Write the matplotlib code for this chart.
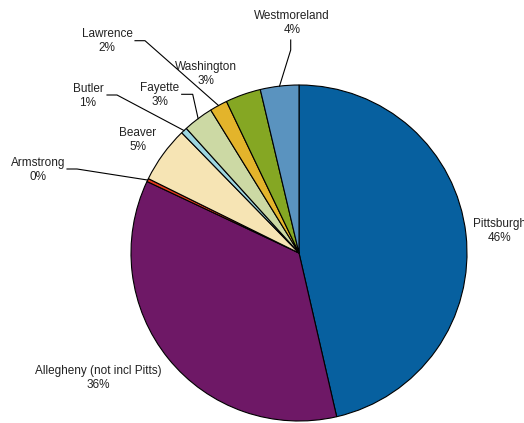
import numpy as np
import matplotlib
matplotlib.use("Agg")
import matplotlib.pyplot as plt

# Share of total by area (percent)
areas = ["Pittsburgh", "Allegheny (not incl Pitts)", "Armstrong", "Beaver",
         "Butler", "Fayette", "Lawrence", "Washington", "Westmoreland"]
shares = [46.4, 35.6, 0.3, 5.4, 0.6, 2.9, 1.7, 3.4, 3.7]
colors = ["#07609F", "#6E1866", "#E23A1C", "#F6E4B4", "#9DD6E0",
          "#CCD9A4", "#E3B42B", "#85A723", "#5A93BF"]

W, H, DPI = 524, 423, 100
CX, CY, R = 299.0, 253.0, 168.0   # pie centre / radius in pixels


def px(x, y):
    """pixel position (from top-left) -> data units of the pie axes"""
    return (x - CX) / R, (CY - y) / R


fig = plt.figure(figsize=(W / DPI, H / DPI), dpi=DPI)
ax = fig.add_axes([0, 0, 1, 1])

wedges, _ = ax.pie(shares, colors=colors, startangle=90, counterclock=False,
                   radius=1.0, center=(0, 0),
                   wedgeprops=dict(edgecolor="black", linewidth=0.8))

ax.set_xlim(-CX / R, (W - CX) / R)
ax.set_ylim((CY - H) / R, CY / R)
ax.set_aspect("auto")
ax.axis("off")

# label block centres (pixels) and optional leader elbows (pixels)
label_pos = {
    "Pittsburgh": (499, 231),
    "Allegheny (not incl Pitts)": (98, 378),
    "Armstrong": (38, 170),
    "Beaver": (138, 140),
    "Butler": (88, 96),
    "Fayette": (160, 95),
    "Lawrence": (107, 41),
    "Washington": (206, 74),
    "Westmoreland": (292, 23),
}
leaders = {
    "Armstrong": [(67, 169), (77, 169)],
    "Butler": [(107, 95), (117, 95)],
    "Fayette": [(181.7, 94.3), (192.7, 94.3)],
    "Lawrence": [(135, 40.7), (145, 40.7)],
    "Westmoreland": [(290.7, 40), (290.7, 50)],
}

total = sum(shares)
for name, val, w in zip(areas, shares, wedges):
    x, y = px(*label_pos[name])
    ax.text(x, y, f"{name}\n{val / total * 100:.0f}%", ha="center", va="center",
            fontsize=8.5, family=["Liberation Sans", "DejaVu Sans"],
            color="#222222", linespacing=1.3)
    if name in leaders:
        mid = np.deg2rad((w.theta1 + w.theta2) / 2)
        pts = [px(*p) for p in leaders[name]] + [(np.cos(mid), np.sin(mid))]
        xs, ys = zip(*pts)
        ax.plot(xs, ys, color="black", linewidth=0.8)

fig.savefig("out.png", dpi=DPI)
